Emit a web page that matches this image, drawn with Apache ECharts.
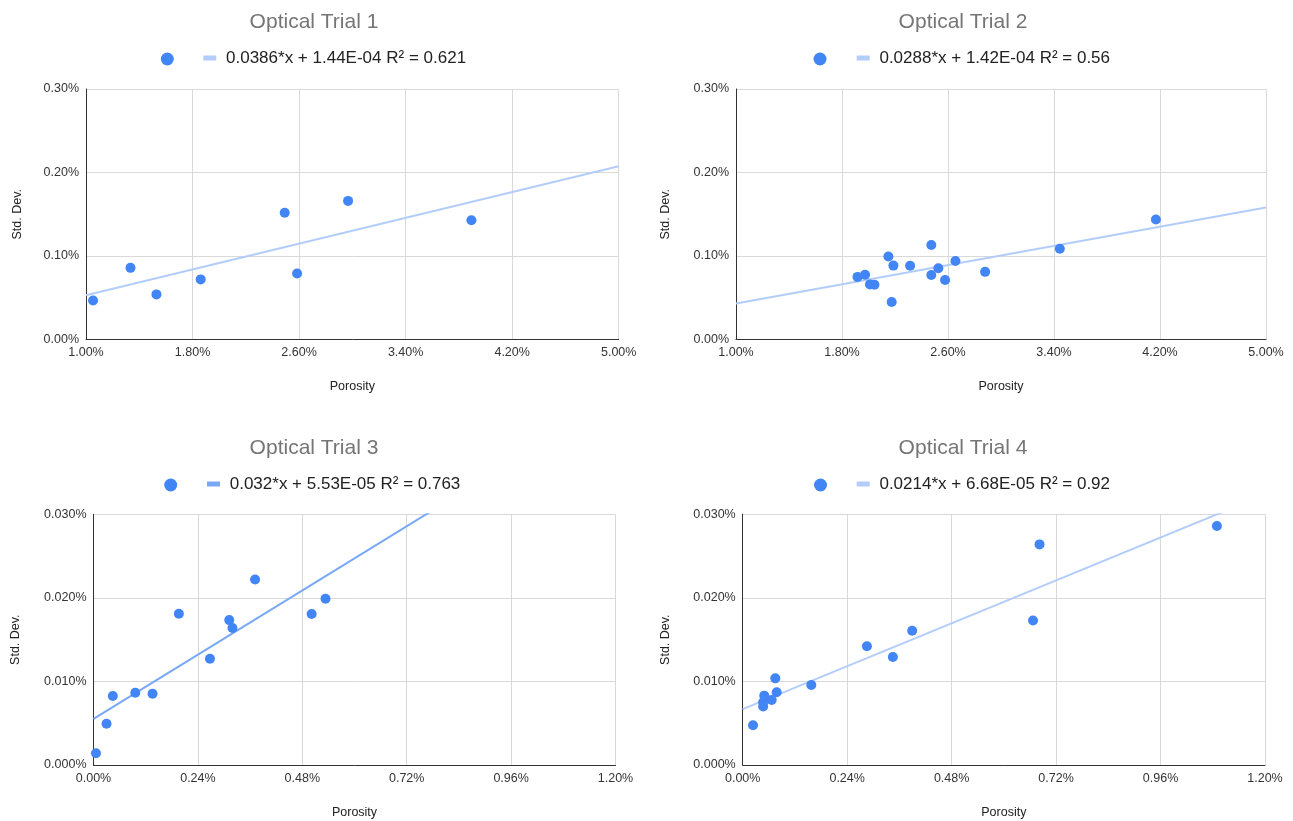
<!DOCTYPE html>
<html>
<head>
<meta charset="utf-8">
<title>Optical Trials</title>
<script src="https://cdn.jsdelivr.net/npm/echarts@6/dist/echarts.min.js"></script>
<style>
  html, body { margin: 0; padding: 0; background: #fff; }
  #chart { width: 1293px; height: 821px; }
</style>
</head>
<body>
<div id="chart"></div>
<script>
// values are in percent
const titles = ['Optical Trial 1', 'Optical Trial 2', 'Optical Trial 3', 'Optical Trial 4']

const trial1Porosity = [1.053, 1.334, 1.529, 1.861, 2.492, 2.585, 2.968, 3.894]
const trial1StdDev = [0.0466, 0.0858, 0.0540, 0.0720, 0.1517, 0.0790, 0.1660, 0.1429]

const trial2Porosity = [1.917, 1.974, 2.011, 2.045, 2.150, 2.188, 2.175, 2.314, 2.474, 2.474, 2.527, 2.578, 2.656, 2.880, 3.444, 4.169]
const trial2StdDev = [0.0750, 0.0775, 0.0660, 0.0655, 0.0994, 0.0885, 0.0450, 0.0883, 0.1132, 0.0772, 0.0853, 0.0713, 0.0941, 0.0810, 0.1087, 0.1437]

const trial3Porosity = [0.0057, 0.0300, 0.0444, 0.0961, 0.1357, 0.1962, 0.2677, 0.3121, 0.3194, 0.3714, 0.5015, 0.5334]
const trial3StdDev = [0.00140, 0.00494, 0.00825, 0.00865, 0.00853, 0.01810, 0.01272, 0.01734, 0.01639, 0.02220, 0.01806, 0.01989]

const trial4Porosity = [0.0237, 0.0470, 0.0470, 0.0495, 0.0666, 0.0749, 0.0781, 0.1576, 0.2854, 0.3450, 0.3894, 0.6670, 0.6820, 1.0895]
const trial4StdDev = [0.00475, 0.00700, 0.00750, 0.00830, 0.00778, 0.01037, 0.00870, 0.00957, 0.01420, 0.01292, 0.01607, 0.01730, 0.02640, 0.02859]

// trendline fits (fraction units, as in the legend)
const slopes = [0.0386, 0.0288, 0.032, 0.0214]
const intercepts = [1.44e-4, 1.42e-4, 5.53e-5, 6.68e-5]
const fitLabels = [
  '0.0386*x + 1.44E-04 R² = 0.621',
  '0.0288*x + 1.42E-04 R² = 0.56',
  '0.032*x + 5.53E-05 R² = 0.763',
  '0.0214*x + 6.68E-05 R² = 0.92'
]

// axis ranges (percent)
const xRanges = [[1, 5, 0.8], [1, 5, 0.8], [0, 1.2, 0.24], [0, 1.2, 0.24]]
const yRanges = [[0, 0.3, 0.1], [0, 0.3, 0.1], [0, 0.03, 0.01], [0, 0.03, 0.01]]
const yDecimals = [2, 2, 3, 3]

const porosity = [trial1Porosity, trial2Porosity, trial3Porosity, trial4Porosity]
const stdDev = [trial1StdDev, trial2StdDev, trial3StdDev, trial4StdDev]

// layout of each panel
const panels = [
  { grid: [86, 89, 532.7, 250.5], titleX: 314, titleY: 12, dotX: 160.8, lineX: 203.3, legendY: 59, nameGap: 62 },
  { grid: [736, 89, 530, 250.5], titleX: 963, titleY: 12, dotX: 813.5, lineX: 856.7, legendY: 59, nameGap: 63.5 },
  { grid: [93.5, 514.3, 522, 250.7], titleX: 314, titleY: 437.5, dotX: 164.2, lineX: 207, legendY: 485, nameGap: 71 },
  { grid: [742.7, 514.3, 522.3, 250.7], titleX: 963, titleY: 437.5, dotX: 814, lineX: 856.7, legendY: 485, nameGap: 70.5 }
]

const dotColor = '#4285f4'
const fitColors = ['#b3cdfa', '#b3cdfa', '#78a8f6', '#b3cdfa']
const font = '"Liberation Sans", Arial, Helvetica, sans-serif'

const title = []
const legend = []
const grid = []
const xAxis = []
const yAxis = []
const series = []

panels.forEach((p, i) => {
  const [gl, gt, gw, gh] = p.grid
  title.push({
    text: titles[i],
    left: p.titleX,
    top: p.titleY,
    textAlign: 'center',
    padding: 0,
    textStyle: { fontFamily: font, fontSize: 21, fontWeight: 'normal', color: '#757575' }
  })
  legend.push({
    data: ['pts' + i],
    left: p.dotX,
    top: p.legendY - 6.5,
    padding: 0,
    icon: 'circle',
    itemWidth: 13,
    itemHeight: 13,
    selectedMode: false,
    formatter: () => '',
    textStyle: { fontSize: 1 }
  })
  legend.push({
    data: [{ name: fitLabels[i], icon: 'rect', itemStyle: { color: fitColors[i] } }],
    left: p.lineX,
    top: p.legendY - 9.5,
    padding: 0,
    itemWidth: 13,
    itemHeight: 5,
    selectedMode: false,
    formatter: (name) => ' ' + name,
    textStyle: { fontFamily: font, fontSize: 17, color: '#222' }
  })
  grid.push({ left: gl, top: gt, width: gw, height: gh, containLabel: false })

  const [xmin, xmax, xint] = xRanges[i]
  const [ymin, ymax, yint] = yRanges[i]
  xAxis.push({
    gridIndex: i,
    type: 'value',
    min: xmin,
    max: xmax,
    interval: xint,
    name: 'Porosity',
    nameLocation: 'middle',
    nameGap: 41,
    nameTextStyle: { fontFamily: font, fontSize: 12.5, color: '#222' },
    axisLine: { show: true, onZero: false, lineStyle: { color: '#333', width: 1 } },
    axisTick: { show: false },
    axisLabel: {
      margin: 7,
      fontFamily: font,
      fontSize: 12.5,
      color: '#333',
      formatter: (v) => v.toFixed(2) + '%'
    },
    splitLine: { show: true, lineStyle: { color: '#d9d9d9', width: 1 } }
  })
  yAxis.push({
    gridIndex: i,
    type: 'value',
    min: ymin,
    max: ymax,
    interval: yint,
    name: 'Std. Dev.',
    nameLocation: 'middle',
    nameGap: p.nameGap,
    nameTextStyle: { fontFamily: font, fontSize: 12.5, color: '#222' },
    axisLine: { show: true, onZero: false, lineStyle: { color: '#333', width: 1 } },
    axisTick: { show: false },
    axisLabel: {
      margin: 7,
      fontFamily: font,
      fontSize: 12.5,
      color: '#333',
      formatter: (v) => v.toFixed(yDecimals[i]) + '%'
    },
    splitLine: { show: true, lineStyle: { color: '#d9d9d9', width: 1 } }
  })

  // trendline over the full x range, converted to percent units
  const fit = (x) => slopes[i] * x + intercepts[i] * 100
  series.push({
    name: fitLabels[i],
    type: 'line',
    xAxisIndex: i,
    yAxisIndex: i,
    data: [[xmin, fit(xmin)], [xmax, fit(xmax)]],
    showSymbol: false,
    clip: true,
    lineStyle: { color: fitColors[i], width: 2 },
    itemStyle: { color: fitColors[i] },
    z: 2
  })
  series.push({
    name: 'pts' + i,
    type: 'scatter',
    xAxisIndex: i,
    yAxisIndex: i,
    data: porosity[i].map((x, k) => [x, stdDev[i][k]]),
    symbolSize: 10,
    itemStyle: { color: dotColor, opacity: 1 },
    z: 3
  })
})

const chart = echarts.init(document.getElementById('chart'), null, { renderer: 'canvas' })
chart.setOption({
  animation: false,
  backgroundColor: '#fff',
  textStyle: { fontFamily: font },
  title,
  legend,
  grid,
  xAxis,
  yAxis,
  series
})
</script>
</body>
</html>
